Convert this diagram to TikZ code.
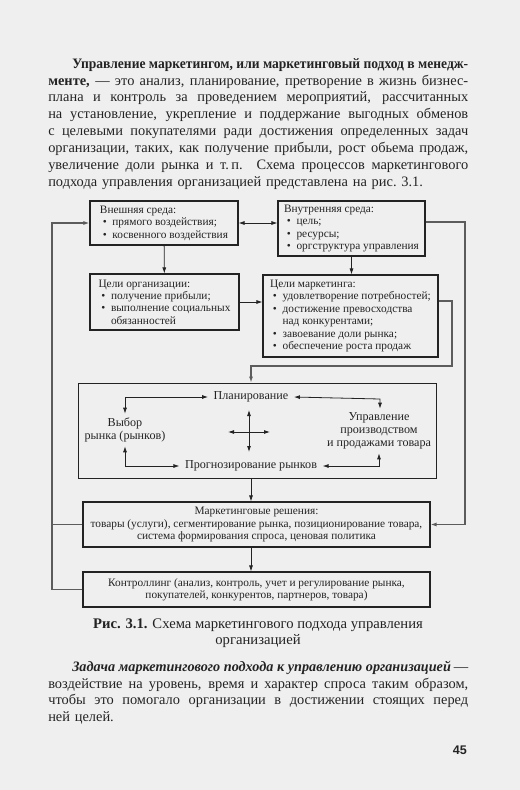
\documentclass[tikz,border=0pt]{standalone}
\usepackage{fontspec}
\setmainfont{Liberation Serif}
\setsansfont{Liberation Sans}
\usepackage{xcolor}
\usepackage{graphicx}
\usetikzlibrary{arrows.meta, positioning}

\definecolor{paper}{HTML}{EFEFEF}
\definecolor{ink}{HTML}{232323}
\definecolor{wirecol}{HTML}{5C5C5C}

\newcommand{\bodyfont}{\fontsize{10.8}{12.68}\selectfont}
\newcommand{\boxfont}{\fontsize{8.5}{9.3}\selectfont}
\newcommand{\mixfont}{\fontsize{9.1}{9.6}\selectfont}
\newcommand{\capfont}{\fontsize{11}{12}\selectfont}
\newcommand{\itm}{\makebox[1.1em][l]{\hspace{0.25em}\textbullet}}
\newcommand{\jl}[1]{{\spaceskip=0pt\xspaceskip=0pt\makebox[\linewidth][s]{#1}}}

\begin{document}
\begin{tikzpicture}[x=0.75pt, y=-0.75pt, >={Latex[length=4.5pt,width=3pt]}]
\tikzstyle{box} = [draw=ink, line width=0.8pt, inner sep=2pt, font=\boxfont, text=ink]
\tikzstyle{inlabel} = [inner xsep=4pt, inner ysep=3pt, font=\mixfont, text=ink, align=center]
\tikzstyle{line} = [draw=ink, line width=0.6pt, ->]
\tikzstyle{dline} = [draw=ink, line width=0.6pt, <->]
\tikzstyle{wire} = [draw=wirecol, line width=1pt]

\fill[paper] (0,0) rectangle (520,790);
\useasboundingbox (0,0) rectangle (520,790);

\node[anchor=north west, inner sep=0, text width=315pt, font=\bodyfont, text=ink] (para1) at (48,58) {%
\jl{\hspace*{18pt}\resizebox{297pt}{\height}{\textbf{Управление маркетингом, или маркетинговый подход в менедж-}}}\\
\jl{\textbf{менте,} — это анализ, планирование, претворение в жизнь бизнес-}\\
\jl{плана и контроль за проведением мероприятий, рассчитанных}\\
\jl{на установление, укрепление и поддержание выгодных обменов}\\
\jl{с целевыми покупателями ради достижения определенных задач}\\
\jl{организации, таких, как получение прибыли, рост обьема продаж,}\\
\jl{увеличение доли рынка и т.\,п. Схема процессов маркетингового}\\
подхода управления организацией представлена на рис.~3.1.};

\node[box, minimum width=111pt, minimum height=33pt, align=left] (extenv) at (164,223) {Внешняя среда:\\\itm прямого воздействия;\\\itm косвенного воздействия};
\node[box, minimum width=110.25pt, minimum height=41.25pt, align=left] (intenv) at (351.5,228.5) {Внутренняя среда:\\\itm цель;\\\itm ресурсы;\\\itm оргструктура управления};
\node[box, minimum width=111.75pt, minimum height=42pt, align=left] (orggoal) at (164.5,302) {Цели организации:\\\itm получение прибыли;\\\itm выполнение социальных\\\hspace*{1.1em}обязанностей};
\node[box, minimum width=131.25pt, minimum height=61.5pt, align=left] (mktgoal) at (350.5,316) {Цели маркетинга:\\\itm удовлетворение потребностей;\\\itm достижение превосходства\\\hspace*{1.1em}над конкурентами;\\\itm завоевание доли рынка;\\\itm обеспечение роста продаж};
\node[box, line width=0.6pt, minimum width=268.5pt, minimum height=71.25pt] (mix) at (257,430.5) {};
\node[box, minimum width=260.25pt, minimum height=33.75pt, align=center] (decision) at (256.5,524.5) {Маркетинговые решения:\\товары (услуги), сегментирование рынка, позиционирование товара,\\система формирования спроса, ценовая политика};
\node[box, minimum width=260.25pt, minimum height=26.25pt, align=center] (control) at (256.5,589.5) {Контроллинг (анализ, контроль, учет и регулирование рынка,\\покупателей, конкурентов, партнеров, товара)};

\node[inlabel] (plan) at (251,397) {Планирование};
\node[inlabel] (choice) at (125,430) {Выбор\\рынка (рынков)};
\node[inlabel] (prod) at (379,431) {Управление\\производством\\и продажами товара};
\node[inlabel] (fcast) at (251,466) {Прогнозирование рынков};
\coordinate (hubN) at (249,410);
\coordinate (hubS) at (249,452);
\coordinate (hubW) at (228,432);
\coordinate (hubE) at (270,432);
\coordinate (bendP) at (380,399);

\path[dline] (hubN) -- (hubS);
\path[dline] (hubW) -- (hubE);
\path[dline] (plan.west) -| (choice.north);
\path[dline] (choice.south) |- (fcast.west);
\path[dline] (plan.east) -- (bendP) -- (bendP |- prod.north);
\path[dline] (prod.south) |- (fcast.east);

\coordinate (colx) at (251,0);
\coordinate (bendM) at (452,366);
\coordinate (railR) at (465,0);
\coordinate (railL) at (52,0);

\path[dline] (extenv.east) -- (extenv.east -| intenv.west);
\path[line] (extenv) -- (orggoal);
\path[line] (intenv.south) -- (intenv.south |- mktgoal.north);
\path[line] (orggoal.east) -- (orggoal.east -| mktgoal.west);
\path[wire, ->] ([yshift=11.25pt]mktgoal.east) -| (bendM) -| (colx |- mix.north);
\path[line] (colx |- mix.south) -- (colx |- decision.north);
\path[line] (colx |- decision.south) -- (colx |- control.north);
\path[wire, ->] ([yshift=4.9pt]intenv.east) -| (railR |- decision.east) -- (decision.east);
\path[wire, ->] (control.west) -| (railL |- extenv.west) -- (extenv.west);
\path[wire] (decision.west) -- (railL |- decision.west);

\node[anchor=north, inner sep=0, font=\capfont, text=ink, align=center] (caption) at (258,619) {\textbf{Рис. 3.1.} Схема маркетингового подхода управления\\организацией};

\node[anchor=north west, inner sep=0, text width=315pt, font=\fontsize{10.8}{12.5}\selectfont, text=ink] (para2) at (48,661) {%
\jl{\hspace*{18pt}\resizebox{284pt}{\height}{\textbf{\textit{Задача маркетингового подхода к управлению организацией}}} —}\\
\jl{воздействие на уровень, время и характер спроса таким образом,}\\
\jl{чтобы это помогало организации в достижении стоящих перед}\\
ней целей.};

\node[anchor=east, inner sep=0, font=\sffamily\bfseries\fontsize{9.4}{10}\selectfont, text=ink] (pagenum) at (467,750) {45};
\end{tikzpicture}
\end{document}
